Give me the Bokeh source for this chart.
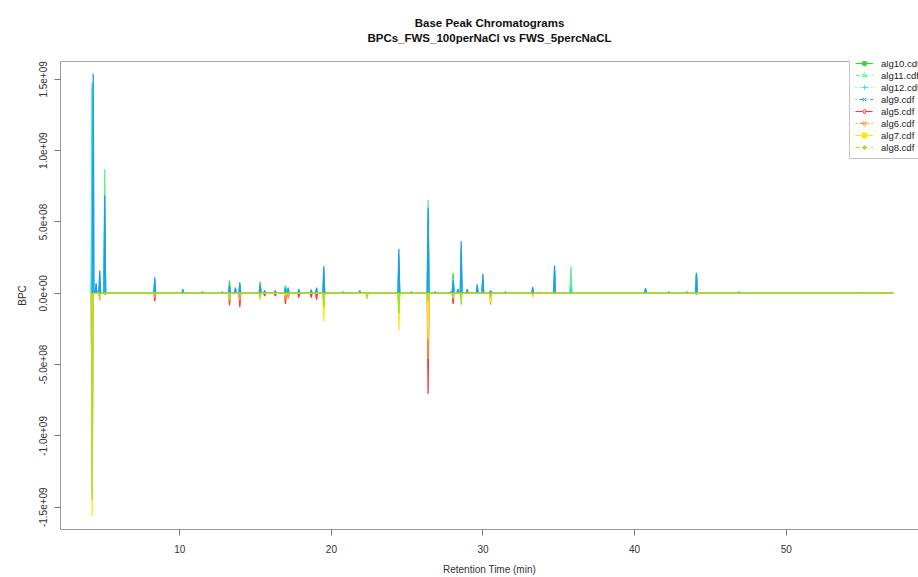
from bokeh.plotting import figure
from bokeh.models import Range1d, FixedTicker, Legend, LegendItem, LinearAxis
from bokeh.embed import file_html
from bokeh.resources import INLINE

# ---------------- data ----------------
# retention times (min) of the peaks
peak_times = [4.22, 4.29, 4.48, 4.72, 5.05, 8.35, 10.2, 11.5, 12.8, 13.28,
              13.67, 13.96, 15.3, 15.6, 16.3, 16.97, 17.15, 17.85, 18.67, 19.02,
              19.5, 20.78, 21.87, 22.36, 24.45, 25.28, 26.38, 26.82, 27.86, 28.03,
              28.34, 28.56, 28.96, 29.62, 29.99, 30.5, 31.48, 33.28, 34.72, 35.8,
              40.72, 42.26, 43.47, 44.08, 46.87, 55.0]
run_start = 4.15
run_end = 57.06

# base peak intensities at those times, in units of 1e8 (FWS_100perNaCl, upward)
alg10 = [11.7, 0, 0.3, 0.5, 5.0, 0.6, 0.1, 0.05, 0.05, 0.9,
         0.2, 0.4, 0.8, 0.1, 0.1, 0.55, 0.2, 0.1, 0.1, 0.2,
         1.0, 0.05, 0.1, 0, 1.5, 0.05, 5.2, 0.05, 0.05, 1.4,
         0.1, 1.5, 0.1, 0.3, 0.6, 0.1, 0.05, 0.2, 0.8, 1.2,
         0.15, 0.05, 0.05, 1.3, 0.05, 0.05]
alg11 = [14.5, 0, 0.4, 0.8, 8.7, 0.7, 0.15, 0.05, 0.05, 0.6,
         0.2, 0.5, 0.6, 0.1, 0.1, 0.5, 0.2, 0.15, 0.1, 0.2,
         1.4, 0.05, 0.1, 0, 2.2, 0.05, 6.55, 0.1, 0.05, 1.0,
         0.2, 2.5, 0.2, 0.4, 1.0, 0.1, 0.05, 0.3, 1.5, 1.9,
         0.2, 0.05, 0.05, 1.4, 0.05, 0.05]
alg12 = [14.8, 0, 0.5, 1.2, 5.5, 0.9, 0.25, 0.1, 0.1, 0.5,
         0.3, 0.6, 0.5, 0.15, 0.15, 0.4, 0.3, 0.2, 0.2, 0.3,
         1.6, 0.1, 0.15, 0, 2.6, 0.1, 5.8, 0.1, 0.1, 0.8,
         0.25, 3.0, 0.25, 0.5, 1.1, 0.15, 0.1, 0.35, 1.7, 0.5,
         0.3, 0.1, 0.1, 1.2, 0.1, 0.05]
alg9 = [0, 15.4, 0.7, 1.6, 6.86, 1.13, 0.3, 0.1, 0.1, 0.55,
        0.4, 0.78, 0.6, 0.2, 0.2, 0.4, 0.4, 0.3, 0.25, 0.4,
        1.9, 0.1, 0.2, 0, 3.1, 0.1, 6.0, 0.1, 0.1, 0.9,
        0.3, 3.65, 0.3, 0.63, 1.37, 0.2, 0.1, 0.43, 1.95, 0.1,
        0.36, 0.1, 0.1, 1.44, 0.1, 0.05]
# FWS_5percNaCL, plotted downward
alg5 = [-11.0, 0, 0, -0.3, -0.1, -0.55, 0, 0, 0, -0.85,
        0, -0.97, -0.1, -0.2, -0.2, -0.74, -0.2, -0.3, -0.3, -0.45,
        -0.5, 0, 0, 0, -0.3, 0, -7.05, 0, 0, -0.74,
        0, -0.2, 0, 0, 0, -0.2, 0, 0, 0, 0,
        0, 0, 0, -0.05, 0, 0]
alg6 = [-14.0, 0, 0, -0.5, -0.1, -0.3, 0, 0, 0, -0.5,
        0, -0.5, 0, 0, 0, -0.4, -0.4, 0, 0, 0,
        -0.8, 0, 0, 0, -1.0, 0, -4.6, 0, 0, -0.4,
        0, 0, 0, 0, 0, -0.8, 0, -0.2, 0, 0,
        0, 0, 0, -0.1, 0, 0]
alg7 = [-15.6, 0, 0, -0.3, 0, 0, 0, 0, 0, -0.4,
        0, 0, -0.5, 0, 0, -0.2, 0, 0, 0, 0,
        -1.96, 0, 0, 0, -2.6, 0, -3.2, 0, 0, -0.3,
        0, -0.5, 0, 0, 0, -0.6, 0, -0.3, 0, 0,
        0, 0, 0, 0, 0, 0]
alg8 = [-14.5, 0, 0, -0.2, 0, 0, 0, 0, 0, -0.5,
        0, 0, -0.3, 0, 0, 0, 0, 0, 0, 0,
        -1.0, 0, 0, -0.4, -1.4, 0, -0.6, 0, 0, -0.3,
        0, -0.8, 0, 0, 0, -0.3, 0, -0.1, 0, 0,
        0, 0, 0, 0, 0, 0]

series_names = ["alg10.cdf", "alg11.cdf", "alg12.cdf", "alg9.cdf",
                "alg5.cdf", "alg6.cdf", "alg7.cdf", "alg8.cdf"]
series_values = [alg10, alg11, alg12, alg9, alg5, alg6, alg7, alg8]

title_main = "Base Peak Chromatograms"
title_sub = "BPCs_FWS_100perNaCl vs FWS_5percNaCL"
x_ticks = [10, 20, 30, 40, 50]
y_ticks = [-1.5e9, -1.0e9, -5e8, 0, 5e8, 1.0e9, 1.5e9]
y_tick_labels = ["-1.5e+09", "-1.0e+09", "-5.0e+08", "0.0e+00", "5.0e+08", "1.0e+09", "1.5e+09"]

# ---------------- styles ----------------
colors = ["#3BD63B", "#5CF08F", "#33E2E6", "#1F9CEB",
          "#FF3434", "#FF9A3C", "#FFE614", "#9BE52A"]
dashes = ["solid", "4 4", "1 3", "1 3 4 3", "7 3", "2 2 6 2", "solid", "4 4"]
markers = ["circle", "triangle", "cross", "x", "diamond", "inverted_triangle", "square_x", "asterisk"]
filled = [True, False, False, False, False, False, True, False]
FONT = "Liberation Sans"
half_width = 0.055

p = figure(width=918, height=577, output_backend="svg", toolbar_location=None,
           x_range=Range1d(2.131, 58.727), y_range=Range1d(-1.6564e9, 1.6255e9),
           min_border_left=60, min_border_right=0, min_border_top=61, min_border_bottom=48)

bottom_axis = p.below[0]
left_axis = p.left[0]

# first title line
p.title.text = title_main
p.title.align = "center"
p.title.text_font = FONT
p.title.text_font_size = "11.5px"
p.title.text_font_style = "bold"
p.title.text_color = "#111111"
p.title.standoff = 0

# box top line + second title line (as the label of an empty top axis)
top_axis = LinearAxis(ticker=FixedTicker(ticks=[]), axis_label=title_sub,
                      axis_label_standoff=18, axis_label_text_font=FONT,
                      axis_label_text_font_size="11.5px", axis_label_text_font_style="bold",
                      axis_label_text_color="#111111", axis_line_color="#aaaaaa",
                      major_tick_out=0, major_tick_in=0, minor_tick_out=0, minor_tick_in=0,
                      major_label_standoff=0)
p.add_layout(top_axis, "above")

p.grid.visible = False
p.outline_line_color = None
p.background_fill_color = "white"

for ax in (bottom_axis, left_axis):
    ax.major_tick_out = 6
    ax.major_tick_in = 0
    ax.minor_tick_out = 0
    ax.minor_tick_in = 0
    ax.axis_line_color = "#9a9a9a"
    ax.major_tick_line_color = "#777777"
    ax.major_label_text_font = FONT
    ax.major_label_text_font_size = "10px"
    ax.major_label_text_color = "#333333"
    ax.axis_label_text_font = FONT
    ax.axis_label_text_font_size = "10px"
    ax.axis_label_text_font_style = "normal"
    ax.axis_label_text_color = "#333333"

bottom_axis.ticker = FixedTicker(ticks=x_ticks)
bottom_axis.axis_label = "Retention Time (min)"
bottom_axis.major_label_standoff = 9
bottom_axis.axis_label_standoff = 8

left_axis.ticker = FixedTicker(ticks=y_ticks)
left_axis.major_label_overrides = {int(t): lab for t, lab in zip(y_ticks, y_tick_labels)}
left_axis.major_label_orientation = "vertical"
left_axis.axis_label = "BPC"
left_axis.major_label_standoff = 7
left_axis.axis_label_standoff = 9

# chromatogram traces
for vals, col in zip(series_values, colors):
    xs = [run_start]
    ys = [0.0]
    for t, v in zip(peak_times, vals):
        if v != 0:
            xs += [t - half_width, t, t + half_width]
            ys += [0.0, v * 1e8, 0.0]
    xs.append(run_end)
    ys.append(0.0)
    p.line(xs, ys, line_color=col, line_width=1.3)

# legend (line + marker, as in the original); renderers hold no visible point
nan = float("nan")
items = []
for name, col, dash, mk, fl in zip(series_names, colors, dashes, markers, filled):
    lr = p.line([nan, nan], [nan, nan], line_color=col, line_dash=dash, line_width=1)
    sr = p.scatter([nan], [nan], marker=mk, size=6, line_color=col,
                   fill_color=col if fl else None, line_width=1)
    items.append(LegendItem(label=name, renderers=[lr, sr]))

legend = Legend(items=items, location=(789, 370), padding=5, spacing=0,
                glyph_height=12, label_height=12, glyph_width=18, label_standoff=8,
                label_text_font=FONT, label_text_font_size="9.5px", label_text_color="#222222",
                border_line_color="#8c8c8c", border_line_width=1,
                background_fill_color="white", background_fill_alpha=1.0, margin=0)
p.add_layout(legend)

open("out.html", "w").write(file_html(p, INLINE))
